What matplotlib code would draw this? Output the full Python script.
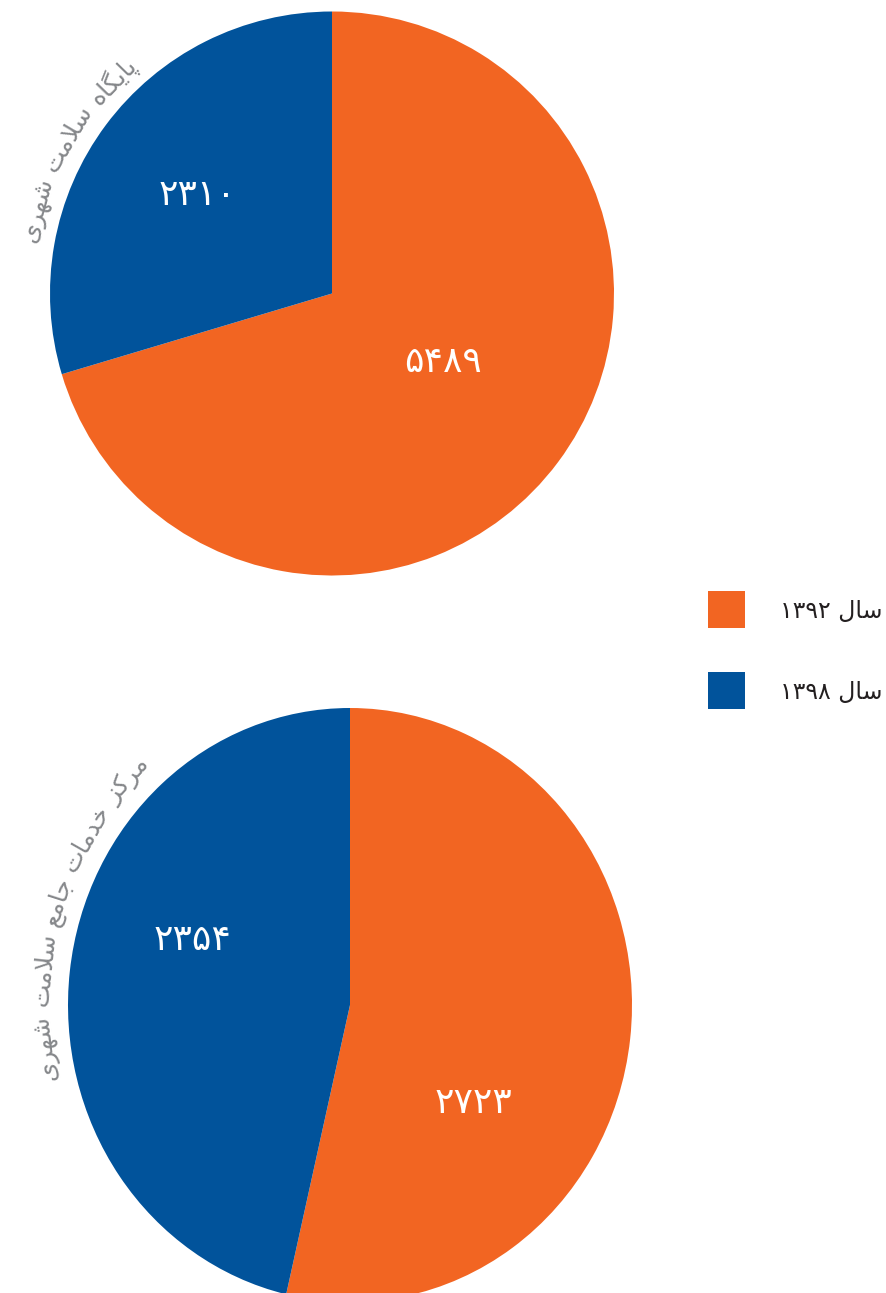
import matplotlib
matplotlib.use("Agg")
import matplotlib.pyplot as plt
import numpy as np
from matplotlib.patches import Rectangle

plt.rcParams['font.family'] = ['DejaVu Sans']

# ---- data ----
years = ['سال ۱۳۹۲', 'سال ۱۳۹۸']
colors = ['#F26522', '#01539B']

top_title = 'پایگاه سلامت شهری'
top_values = [5489, 2310]

bottom_title = 'مرکز خدمات جامع سلامت شهری'
bottom_values = [2723, 2354]

# ---- Persian text helpers (contextual forms + visual order) ----
FORMS = {
    '\u0627': (0xFE8D, 0xFE8E, None, None),    # alef
    '\u067E': (0xFB56, 0xFB57, 0xFB58, 0xFB59),  # peh
    '\u06CC': (0xFBFC, 0xFBFD, 0xFBFE, 0xFBFF),  # farsi yeh
    '\u06AF': (0xFB92, 0xFB93, 0xFB94, 0xFB95),  # gaf
    '\u0647': (0xFEE9, 0xFEEA, 0xFEEB, 0xFEEC),  # heh
    '\u0633': (0xFEB1, 0xFEB2, 0xFEB3, 0xFEB4),  # seen
    '\u0634': (0xFEB5, 0xFEB6, 0xFEB7, 0xFEB8),  # sheen
    '\u0644': (0xFEDD, 0xFEDE, 0xFEDF, 0xFEE0),  # lam
    '\u0645': (0xFEE1, 0xFEE2, 0xFEE3, 0xFEE4),  # meem
    '\u062A': (0xFE95, 0xFE96, 0xFE97, 0xFE98),  # teh
    '\u0631': (0xFEAD, 0xFEAE, None, None),    # reh
    '\u0632': (0xFEAF, 0xFEB0, None, None),    # zain
    '\u06A9': (0xFB8E, 0xFB8F, 0xFB90, 0xFB91),  # keheh
    '\u062E': (0xFEA5, 0xFEA6, 0xFEA7, 0xFEA8),  # khah
    '\u062F': (0xFEA9, 0xFEAA, None, None),    # dal
    '\u062C': (0xFE9D, 0xFE9E, 0xFE9F, 0xFEA0),  # jeem
    '\u0639': (0xFEC9, 0xFECA, 0xFECB, 0xFECC),  # ain
}
LAM_ALEF = (0xFEFB, 0xFEFC)


def shape_word(word):
    chars = list(word)
    out = []
    prev_joins = False
    i = 0
    while i < len(chars):
        c = chars[i]
        if c not in FORMS:
            out.append(c)
            prev_joins = False
            i += 1
            continue
        if c == '\u0644' and i + 1 < len(chars) and chars[i + 1] == '\u0627':
            out.append(chr(LAM_ALEF[1] if prev_joins else LAM_ALEF[0]))
            prev_joins = False
            i += 2
            continue
        iso, fin, ini, med = FORMS[c]
        nxt = chars[i + 1] if i + 1 < len(chars) else None
        joins_next = ini is not None and nxt in FORMS
        if prev_joins and joins_next:
            g = med
        elif prev_joins:
            g = fin
        elif joins_next:
            g = ini
        else:
            g = iso
        out.append(chr(g))
        prev_joins = joins_next
        i += 1
    return ''.join(out)


def visual_word(word):
    if any(ch in FORMS for ch in word):
        return shape_word(word)[::-1]
    return word


def visual(text):
    return ' '.join(visual_word(w) for w in reversed(text.split(' ')))


def fa_num(n):
    return str(n).translate(str.maketrans('0123456789', '۰۱۲۳۴۵۶۷۸۹'))


# ---- figure ----
W, H = 887, 1293
fig = plt.figure(figsize=(W / 100, H / 100), dpi=100)
renderer = fig.canvas.get_renderer()


def pie_axes(cx, cy, rx, ry):
    return fig.add_axes([(cx - rx) / W, (H - cy - ry) / H, 2 * rx / W, 2 * ry / H])


def arc_len(th, radius, rx, ry):
    return radius * np.hypot(rx * np.sin(th), ry * np.cos(th))


def arc_text(ax, text, theta_c, radius, rx, ry, fontsize, color):
    """Lay the words of an RTL caption along an arc outside the pie."""
    words = [visual_word(w) for w in text.split(' ')][::-1]
    widths = []
    for w in words:
        t = fig.text(0, 0, w, fontsize=fontsize)
        widths.append(t.get_window_extent(renderer).width)
        t.remove()
    space = 0.32 * fontsize * 100 / 72
    total = sum(widths) + space * (len(words) - 1)
    tc = np.radians(theta_c)
    th = tc + (total / 2) / arc_len(tc, radius, rx, ry)
    for w, wd in zip(words, widths):
        th -= (wd / 2) / arc_len(th, radius, rx, ry)
        normal = np.degrees(np.arctan2(np.sin(th) / ry, np.cos(th) / rx))
        ax.text(radius * np.cos(th), radius * np.sin(th), w,
                rotation=normal - 90, rotation_mode='anchor',
                ha='center', va='center', fontsize=fontsize, color=color,
                clip_on=False)
        th -= (wd / 2 + space) / arc_len(th, radius, rx, ry)


charts = [
    dict(cx=332, cy=293.5, rx=282, ry=282, values=top_values, title=top_title,
         label_xy=[(0.394, -0.243), (-0.479, 0.349)], theta=150.5, rad=1.085),
    dict(cx=350, cy=1005, rx=282, ry=297, values=bottom_values, title=bottom_title,
         label_xy=[(0.436, -0.330), (-0.557, 0.219)], theta=162.5, rad=1.09),
]

for c in charts:
    ax = pie_axes(c['cx'], c['cy'], c['rx'], c['ry'])
    ax.pie(c['values'], colors=colors, startangle=90, counterclock=False,
           radius=1, wedgeprops=dict(linewidth=0))
    ax.set_aspect('auto')
    ax.set_xlim(-1, 1)
    ax.set_ylim(-1, 1)
    ax.axis('off')
    for v, (x, y) in zip(c['values'], c['label_xy']):
        ax.text(x, y, fa_num(v), ha='center', va='center', color='white',
                fontsize=26)
    arc_text(ax, c['title'], c['theta'], c['rad'], c['rx'], c['ry'], 18, '#86888B')

# ---- legend ----
for i, (lab, col) in enumerate(zip(years, colors)):
    top = 591 + i * 81
    fig.add_artist(Rectangle((708 / W, (H - top - 37) / H), 37 / W, 37 / H,
                             transform=fig.transFigure, facecolor=col,
                             edgecolor='none'))
    fig.text(883 / W, (H - top - 20) / H, visual(lab), ha='right',
             va='center', fontsize=17, color='#231F20')

fig.savefig('out.png', dpi=100)
